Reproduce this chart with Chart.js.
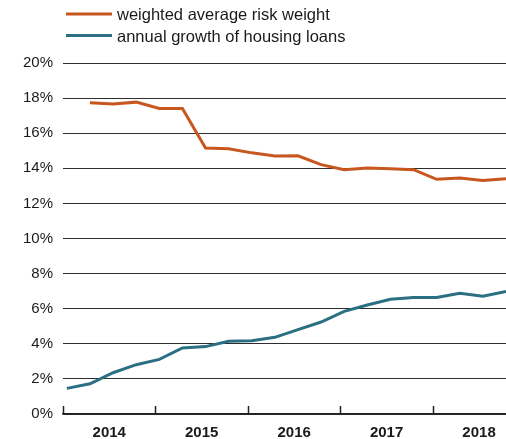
<!DOCTYPE html>
<html>
<head>
<meta charset="utf-8">
<script src="https://cdn.jsdelivr.net/npm/chart.js@4/dist/chart.umd.min.js"></script>
<style>
  html, body { margin: 0; padding: 0; background: #fff; }
  #wrap { width: 506px; height: 439px; }
</style>
</head>
<body>
<div id="wrap"><canvas id="riskChart"></canvas></div>
<script>
// quarterly observations (first month of each quarter)
const months = [
    '2014-01', '2014-04', '2014-07', '2014-10',
    '2015-01', '2015-04', '2015-07', '2015-10',
    '2016-01', '2016-04', '2016-07', '2016-10',
    '2017-01', '2017-04', '2017-07', '2017-10',
    '2018-01', '2018-04', '2018-07', '2018-10'
];
const riskWeight = [null, 17.73, 17.66, 17.77, 17.41, 17.41, 15.16, 15.11, 14.88, 14.70,
    14.71, 14.21, 13.92, 14.02, 13.98, 13.92, 13.37, 13.45, 13.30, 13.41];
const loanGrowth = [1.46, 1.72, 2.35, 2.81, 3.11, 3.76, 3.84, 4.14, 4.18, 4.37,
    4.81, 5.24, 5.85, 6.21, 6.54, 6.64, 6.64, 6.88, 6.71, 6.98];
const years = [2014, 2015, 2016, 2017, 2018];
const seriesLabels = ['weighted average risk weight', 'annual growth of housing loans'];

const FONT = "'Liberation Sans', Arial, sans-serif";

const toX = s => {
    const [y, m] = s.split('-').map(Number);
    return y + (m - 0.5) / 12;
};
const toPoints = vals => months
    .map((m, i) => ({ x: toX(m), y: vals[i] }))
    .filter(p => p.y !== null);

// legend drawn above the plot, stacked
const stackedLegend = {
    id: 'stackedLegend',
    afterDraw(chart) {
        const ctx = chart.ctx;
        ctx.save();
        chart.data.datasets.forEach((ds, i) => {
            const y = 14 + i * 21.5;
            ctx.strokeStyle = ds.borderColor;
            ctx.lineWidth = 3;
            ctx.beginPath();
            ctx.moveTo(66, y);
            ctx.lineTo(112, y);
            ctx.stroke();
            ctx.fillStyle = '#1a1a1a';
            ctx.font = '16.5px ' + FONT;
            ctx.textBaseline = 'middle';
            ctx.fillText(ds.label, 117, y + 1.5);
        });
        ctx.restore();
    }
};

// small year-boundary ticks pointing up from the axis
const yearTicks = {
    id: 'yearTicks',
    afterDatasetsDraw(chart) {
        const ctx = chart.ctx;
        const xs = chart.scales.x;
        const bottom = chart.chartArea.bottom;
        ctx.save();
        ctx.strokeStyle = '#222';
        ctx.lineWidth = 1.5;
        years.forEach(yr => {
            const px = Math.round(xs.getPixelForValue(yr)) + 0.5;
            ctx.beginPath();
            ctx.moveTo(px, bottom - 8);
            ctx.lineTo(px, bottom);
            ctx.stroke();
        });
        ctx.restore();
    }
};

const ctx = document.getElementById('riskChart').getContext('2d');
new Chart(ctx, {
    type: 'line',
    data: {
        datasets: [{
            label: seriesLabels[0],
            data: toPoints(riskWeight),
            borderColor: '#c8561f',
            borderWidth: 3,
            pointRadius: 0,
            tension: 0
        }, {
            label: seriesLabels[1],
            data: toPoints(loanGrowth),
            borderColor: '#2b6f82',
            borderWidth: 3,
            pointRadius: 0,
            tension: 0
        }]
    },
    options: {
        responsive: true,
        maintainAspectRatio: false,
        animation: false,
        layout: { padding: { top: 63, right: 0, bottom: 0, left: 0 } },
        plugins: {
            legend: { display: false },
            tooltip: { enabled: false }
        },
        scales: {
            x: {
                type: 'linear',
                min: years[0],
                max: toX(months[months.length - 1]),
                afterBuildTicks: s => { s.ticks = years.map(y => ({ value: y + 0.5 })); },
                afterFit: s => { s.height = 25; },
                grid: { display: false, drawTicks: false },
                border: { display: true, color: '#222', width: 1.5 },
                ticks: {
                    autoSkip: false,
                    maxRotation: 0,
                    padding: 10,
                    color: '#1a1a1a',
                    font: { family: FONT, size: 15, weight: 'bold' },
                    callback: v => String(Math.floor(v))
                }
            },
            y: {
                min: 0,
                max: 20,
                afterFit: s => { s.width = 63; },
                grid: { color: '#2e2e2e', lineWidth: 1, drawTicks: false },
                border: { display: false },
                ticks: {
                    stepSize: 2,
                    padding: 10,
                    color: '#1a1a1a',
                    font: { family: FONT, size: 15 },
                    callback: v => v + '%'
                }
            }
        }
    },
    plugins: [stackedLegend, yearTicks]
});
</script>
</body>
</html>
